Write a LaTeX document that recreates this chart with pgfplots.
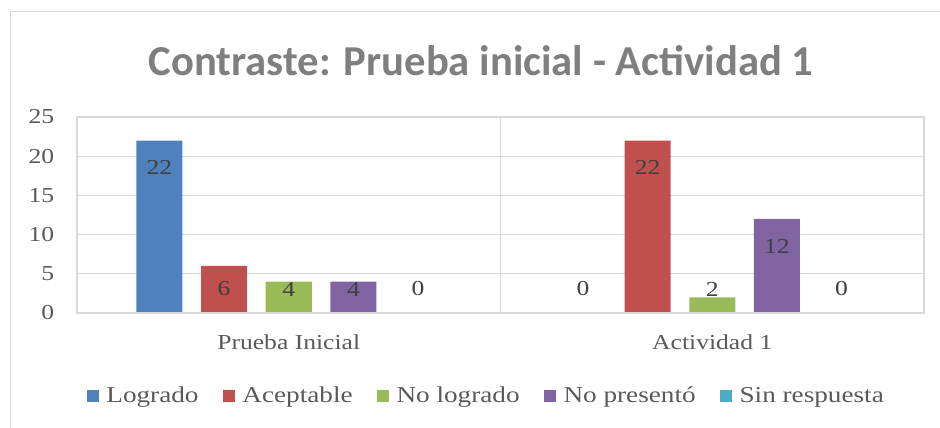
\documentclass[border=0pt]{standalone}
\usepackage{fontspec}
\setmainfont[FakeStretch=1.2]{Liberation Serif}
\newfontfamily\titlefont{Carlito}
\usepackage{pgfplots}
\pgfplotsset{compat=1.18}
\definecolor{cBlue}{HTML}{4F81BD}
\definecolor{cRed}{HTML}{C0504D}
\definecolor{cGreen}{HTML}{9BBB59}
\definecolor{cPurple}{HTML}{8064A2}
\definecolor{cCyan}{HTML}{4BACC6}
\definecolor{gridc}{HTML}{D9D9D9}
\definecolor{txt}{HTML}{595959}
\definecolor{lbl}{HTML}{404040}
\definecolor{ttl}{HTML}{7F7F7F}
\begin{document}
\begin{tikzpicture}
\useasboundingbox (0,0) rectangle (705pt,321pt);
\draw[gridc, line width=1.1pt] (8pt,-5pt) -- (8pt,312.4pt) -- (720pt,312.4pt);
\node[anchor=base, text=ttl, font=\titlefont\bfseries\fontsize{32}{38}\selectfont] at (360.75pt,264pt) {Contraste: Prueba inicial - Actividad 1};
\begin{axis}[
  ybar=14pt,
  bar width=34.5pt,
  at={(57.75pt,86.25pt)}, anchor=south west,
  scale only axis,
  width=635.25pt, height=147pt,
  xmin=-0.5, xmax=1.5, ymin=0, ymax=25,
  xtick={0,1}, xticklabels={Prueba Inicial, Actividad 1},
  minor xtick={0.5},
  ytick={0,5,10,15,20,25},
  xminorgrids, ymajorgrids,
  grid style={gridc, line width=1pt},
  minor grid style={gridc, line width=1pt},
  axis line style={gridc, line width=1pt},
  major tick length=0pt, minor tick length=0pt,
  tick style={draw=none},
  /pgf/number format/assume math mode=true,
  tick label style={font=\fontsize{16}{19}\selectfont, text=txt},
  yticklabel style={xshift=-13.5pt},
  xticklabel style={yshift=-12.5pt},
  nodes near coords,
  visualization depends on={y \as \rawy},
  every node near coord/.append style={anchor=center, font=\fontsize{16}{19}\selectfont, text=lbl,
     yshift={max(\rawy*5.88-20.5,18)-\rawy*5.88}},
  legend columns=5,
  legend style={at={(0.4835,-0.4235)}, anchor=center, draw=none, fill=none,
     font=\fontsize{17}{20}\selectfont, text=txt,
     /tikz/every odd column/.append style={column sep=3.5pt},
     /tikz/every even column/.append style={column sep=16pt}},
  legend image code/.code={\fill[#1] (0pt,-4.7pt) rectangle (9.4pt,4.7pt);},
]
\addplot[fill=cBlue, draw=none] coordinates {(0,22) (1,0)};
\addplot[fill=cRed, draw=none] coordinates {(0,6) (1,22)};
\addplot[fill=cGreen, draw=none] coordinates {(0,4) (1,2)};
\addplot[fill=cPurple, draw=none] coordinates {(0,4) (1,12)};
\addplot[fill=cCyan, draw=none] coordinates {(0,0) (1,0)};
\draw[gridc, line width=1pt] (rel axis cs:0,0) -- (rel axis cs:1,0);
\legend{Logrado, Aceptable, No logrado, No presentó, Sin respuesta}
\end{axis}
\end{tikzpicture}
\end{document}
